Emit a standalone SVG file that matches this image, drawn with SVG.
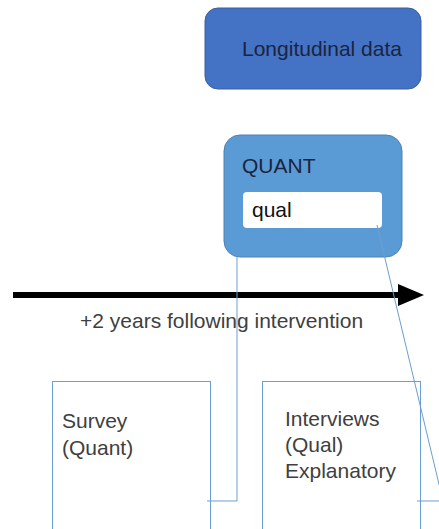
<svg xmlns="http://www.w3.org/2000/svg" width="439" height="529" viewBox="0 0 439 529">
<style>
text{font-family:"Liberation Sans",Arial,sans-serif;font-size:21px;fill:#404040}
.dark{fill:#1a2440}
.box{fill:#fff;stroke:#6a9fcf;stroke-width:1}
.conn{fill:none;stroke:#6a9fcf;stroke-width:1}
</style>
<rect width="439" height="529" fill="#fff"/>
<g id="longitudinal">
<rect x="205" y="8" width="216" height="81" rx="13" fill="#4472c4" stroke="#3a5f9f" stroke-width="1"/>
<text class="dark" x="242" y="56" font-size="20">Longitudinal data</text>
</g>
<g id="quant">
<rect x="224" y="135" width="178" height="122" rx="16" fill="#5b9bd5" stroke="#4a82b8" stroke-width="1"/>
<text class="dark" x="242" y="173">QUANT</text>
<rect x="243" y="192" width="139" height="36" rx="4" fill="#fff"/>
<text x="252" y="217" style="fill:#111">qual</text>
</g>
<g id="timeline">
<line x1="13" y1="295" x2="400" y2="295" stroke="#000" stroke-width="6"/>
<polygon points="398,284 424,295 398,306" fill="#000"/>
<text x="80" y="328">+2 years following intervention</text>
</g>
<g id="survey">
<rect class="box" x="52.5" y="381.5" width="158" height="160"/>
<text x="62" y="428">Survey</text>
<text x="62" y="455">(Quant)</text>
</g>
<g id="interviews">
<rect class="box" x="262.5" y="381.5" width="158" height="160"/>
<text x="285" y="426">Interviews</text>
<text x="285" y="452">(Qual)</text>
<text x="285" y="478">Explanatory</text>
</g>
<g id="connectors">
<polyline class="conn" points="237,257 237,501 207,501"/>
<polyline class="conn" points="377,225 443,501 417,501"/>
</g>
</svg>
